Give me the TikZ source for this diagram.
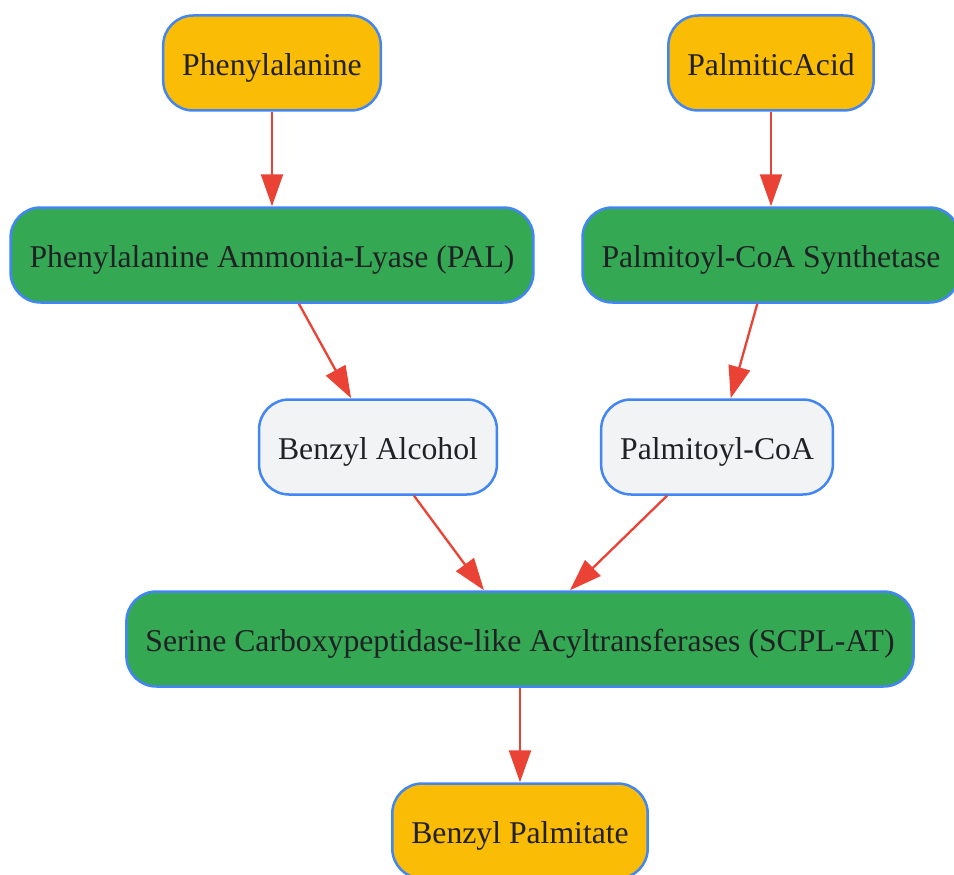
\documentclass[tikz,border=0pt]{standalone}
\usepackage{fontspec}
\setmainfont{Liberation Serif}
\usetikzlibrary{arrows.meta}
\definecolor{boxline}{HTML}{4285F4}
\definecolor{substrate}{HTML}{FBBC05}
\definecolor{enzyme}{HTML}{34A853}
\definecolor{middle}{HTML}{F1F3F4}
\definecolor{flow}{HTML}{EA4335}
\definecolor{ink}{HTML}{202124}
\begin{document}
\begin{tikzpicture}[x=1pt, y=-1pt,
    box/.style={draw=boxline, line width=2.5pt, rounded corners=30pt,
        minimum height=95pt, inner xsep=19pt, text=ink,
        text height=25pt, text depth=0pt,
        font=\fontsize{31.7}{38}\selectfont},
    substrate/.style={box, fill=substrate},
    enzyme/.style={box, fill=enzyme},
    middle/.style={box, fill=middle},
    flow/.style={draw=flow, line width=2.3pt,
        -{Triangle[length=32pt, width=22pt]}}]
    % keep the page as large as the reference
    \useasboundingbox (0,0) rectangle (954,875);

    % the starting compounds
    \node[substrate] (phe) at (272,63) {Phenylalanine};
    \node[substrate] (palm) at (771,63) {PalmiticAcid};

    % the enzymes of the first step
    \node[enzyme] (pal) at (272,255) {Phenylalanine Ammonia-Lyase (PAL)};
    \node[enzyme] (acs) at (771,255) {Palmitoyl-CoA Synthetase};

    % the intermediates
    \node[middle] (alc) at (378,447) {Benzyl Alcohol};
    \node[middle] (coa) at (717,447) {Palmitoyl-CoA};

    % the last enzyme and the product
    \node[enzyme] (scpl) at (520,639) {Serine Carboxypeptidase-like Acyltransferases (SCPL-AT)};
    \node[substrate] (prod) at (520,831) {Benzyl Palmitate};

    % draw the arrows
    \draw[flow] (phe) -- (pal);
    \draw[flow] (palm) -- (acs);
    \draw[flow] (pal) -- (alc);
    \draw[flow] (acs) -- (coa);
    \draw[flow] (alc) -- (scpl);
    \draw[flow] (coa) -- (scpl);
    \draw[flow] (scpl) -- (prod);
\end{tikzpicture}
\end{document}
